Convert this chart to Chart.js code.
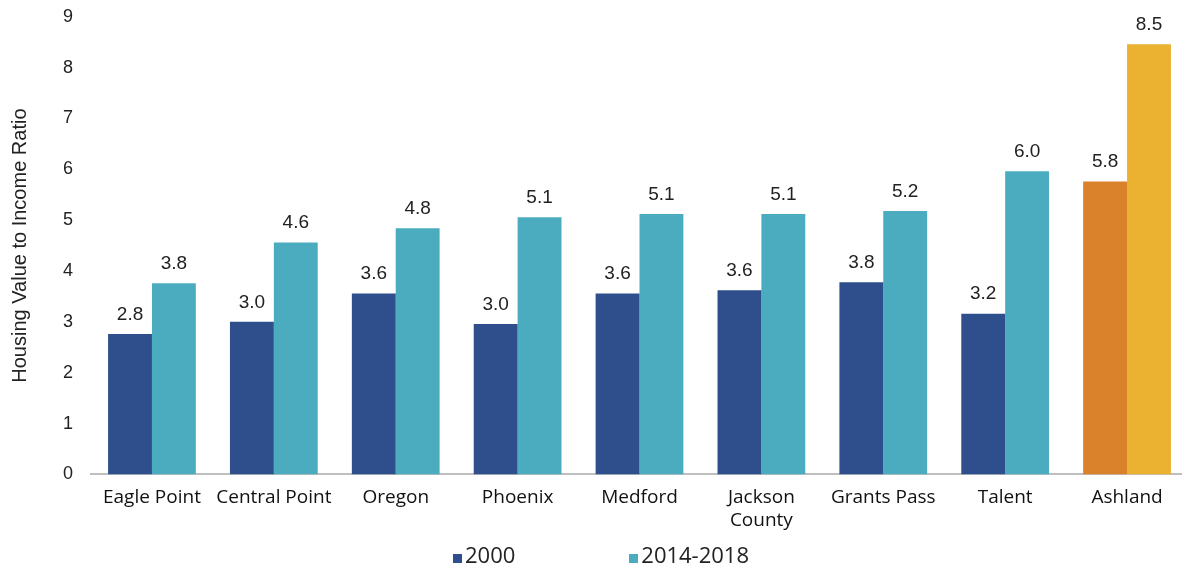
<!DOCTYPE html>
<html>
<head>
<meta charset="utf-8">
<script src="https://cdn.jsdelivr.net/npm/chart.js@4.4.0/dist/chart.umd.min.js"></script>
<style>
    html, body { margin: 0; padding: 0; background: #fff; }
    #wrap { position: relative; width: 1182px; height: 571px; overflow: hidden; }
    #ratioChart { position: absolute; left: 0; top: -4px; }
    #legend {
        position: absolute; left: 10px; top: 539px; width: 1182px;
        text-align: center; font-family: "Open Sans", "Liberation Sans", sans-serif;
        font-size: 22px; color: #222; white-space: nowrap;
    }
    #legend span.item { display: inline-block; margin: 0 57px; }
    #legend span.box { display: inline-block; width: 9px; height: 9px; margin-right: 3px; }
</style>
</head>
<body>
<div id="wrap">
    <canvas id="ratioChart" width="1188" height="575"></canvas>
    <div id="legend"></div>
</div>
<script>
// Categories and series values
const places = ['Eagle Point', 'Central Point', 'Oregon', 'Phoenix', 'Medford', ['Jackson', 'County'], 'Grants Pass', 'Talent', 'Ashland'];
const ratio2000 = [2.76, 3.0, 3.56, 2.96, 3.56, 3.62, 3.78, 3.16, 5.76];
const ratio2018 = [3.76, 4.56, 4.84, 5.06, 5.12, 5.12, 5.18, 5.96, 8.46];
const seriesNames = ['2000', '2014-2018'];

const navy = '#2E4F8C';
const teal = '#4BACC0';
const orange = '#D9812B';
const gold = '#EBB131';

// Ashland is highlighted in its own colours
function colorsFor(base, highlight) {
    return places.map((p, i) => i === places.length - 1 ? highlight : base);
}

// Value labels above each bar
const valueLabels = {
    id: 'valueLabels',
    afterDatasetsDraw(chart) {
        const ctx = chart.ctx;
        ctx.save();
        ctx.font = '19px "Liberation Sans", Arial, sans-serif';
        ctx.fillStyle = '#222';
        ctx.textAlign = 'center';
        ctx.textBaseline = 'bottom';
        chart.data.datasets.forEach((ds, di) => {
            chart.getDatasetMeta(di).data.forEach((bar, i) => {
                ctx.fillText(ds.data[i].toFixed(1), bar.x, bar.y - 10);
            });
        });
        ctx.restore();
    }
};

document.addEventListener('DOMContentLoaded', function() {
    const ctx = document.getElementById('ratioChart').getContext('2d');
    new Chart(ctx, {
        type: 'bar',
        data: {
            labels: places,
            datasets: [
                {
                    label: seriesNames[0],
                    data: ratio2000,
                    backgroundColor: colorsFor(navy, orange),
                    barPercentage: 1,
                    categoryPercentage: 0.72
                },
                {
                    label: seriesNames[1],
                    data: ratio2018,
                    backgroundColor: colorsFor(teal, gold),
                    barPercentage: 1,
                    categoryPercentage: 0.72
                }
            ]
        },
        options: {
            responsive: false,
            animation: false,
            layout: { padding: { top: -8, right: 0, bottom: 35, left: 8 } },
            plugins: {
                legend: { display: false },
                tooltip: { enabled: false }
            },
            scales: {
                x: {
                    grid: { display: false },
                    border: { color: '#BFBFBF', width: 2 },
                    ticks: {
                        color: '#111',
                        font: { family: '"Open Sans", "Liberation Sans", sans-serif', size: 19 },
                        maxRotation: 0,
                        autoSkip: false,
                        padding: 4
                    }
                },
                y: {
                    min: 0,
                    max: 9,
                    grid: { display: false },
                    border: { display: false },
                    ticks: {
                        stepSize: 1,
                        color: '#222',
                        font: { family: '"Liberation Sans", Arial, sans-serif', size: 18 },
                        padding: 10
                    },
                    title: {
                        display: true,
                        text: 'Housing Value to Income Ratio',
                        color: '#222',
                        font: { family: '"Liberation Sans", Arial, sans-serif', size: 20 },
                        padding: { top: 0, bottom: 21 }
                    }
                }
            }
        },
        plugins: [valueLabels]
    });

    // Legend below the chart
    const legend = document.getElementById('legend');
    [navy, teal].forEach((c, i) => {
        const item = document.createElement('span');
        item.className = 'item';
        item.innerHTML = '<span class="box" style="background:' + c + '"></span>' + seriesNames[i];
        legend.appendChild(item);
    });
});
</script>
</body>
</html>
